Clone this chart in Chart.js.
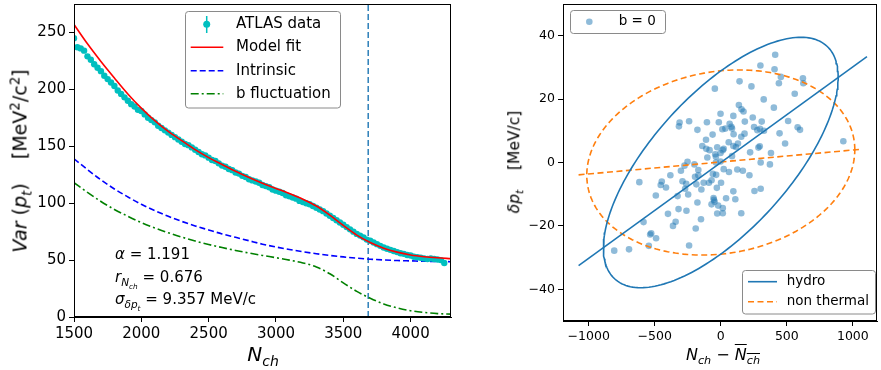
<!DOCTYPE html>
<html>
<head>
<meta charset="utf-8">
<script src="https://cdn.jsdelivr.net/npm/chart.js@4.4.1/dist/chart.umd.min.js"></script>
<style>
body { margin:0; background:#fff; width:881px; height:370px; position:relative; overflow:hidden; font-family:'DejaVu Sans', sans-serif; }
canvas { position:absolute; top:0; }
#leftChart { left:0; }
#rightChart { left:461px; }
.lbl { position:absolute; white-space:nowrap; color:#000; line-height:1; }
.lbl sub, .lbl sup { font-size:70%; line-height:0; }
.rot { transform:translate(-50%,-50%) rotate(-90deg); }
.ctr { transform:translate(-50%,-50%); }
.ovl { text-decoration:overline; }
</style>
</head>
<body>
<canvas id="leftChart" width="460" height="370"></canvas>
<canvas id="rightChart" width="420" height="370"></canvas>

<div class="lbl rot" style="left:20px;top:161px;font-size:19px;"><i>Var</i> (<i>p</i><sub><i>t</i></sub>)&nbsp;&nbsp;&nbsp; [MeV<sup>2</sup>/c<sup>2</sup>]</div>
<div class="lbl ctr" style="left:263px;top:354px;font-size:20px;"><i>N</i><sub><i>ch</i></sub></div>
<div class="lbl" style="left:115px;top:247px;font-size:15px;"><i>α</i> = 1.191</div>
<div class="lbl" style="left:115px;top:270px;font-size:15px;"><i>r</i><sub><i>N</i><sub><i>ch</i></sub></sub> = 0.676</div>
<div class="lbl" style="left:115px;top:292px;font-size:15px;"><i>σ</i><sub><i>δp</i><sub><i>t</i></sub></sub> = 9.357 MeV/c</div>

<div class="lbl rot" style="left:515px;top:162px;font-size:15.5px;"><i>δp</i><sub><i>t</i></sub>&nbsp;&nbsp;&nbsp; [MeV/c]</div>
<div class="lbl ctr" style="left:723px;top:355px;font-size:16px;"><i>N</i><sub><i>ch</i></sub> − <span class="ovl"><i>N</i><sub><i>ch</i></sub></span></div>

<script>
// ---- left panel: variance vs N_ch ----
const nch = [1500,1525,1550,1575,1600,1625,1650,1675,1700,1725,1750,1775,1800,1825,1850,1875,1900,1925,1950,1975,
  2000,2025,2050,2075,2100,2125,2150,2175,2200,2225,2250,2275,2300,2325,2350,2375,2400,2425,2450,2475,
  2500,2525,2550,2575,2600,2625,2650,2675,2700,2725,2750,2775,2800,2825,2850,2875,2900,2925,2950,2975,
  3000,3025,3050,3075,3100,3125,3150,3175,3200,3225,3250,3275,3300,3325,3350,3375,3400,3425,3450,3475,
  3500,3525,3550,3575,3600,3625,3650,3675,3700,3725,3750,3775,3800,3825,3850,3875,3900,3925,3950,3975,
  4000,4025,4050,4075,4100,4125,4150,4175,4200,4225,4250];
const atlasVar = [245,237,236,234,229,226,222,219,216,212,209,206,203,199,196,193,190,187,185,182,
  181,178,175,173,171,168,166,164,162,160,158,156,154,152,151,149,147,145,143,142,
  140,138,137,135,133,132,130,129,127,126,124,123,121,120,119,118,116,115,114,112,
  111,110,109,107,106,105,104,102,101,100,99,97.5,96,94.5,93,91,89,87,85,83,
  81,79,77,75,73,71.5,70,68,67,65.5,64,62.5,61,60,59,58,57,56,55.5,54.5,
  54,53,52.5,52,51.5,51,51.5,51,50.5,50,47.5];

const curveNch = [1500,1600,1700,1800,1900,2000,2100,2200,2300,2400,2500,2600,2700,2800,2900,
  3000,3100,3200,3300,3400,3500,3600,3700,3800,3900,4000,4100,4200,4300];
const modelFit = [257,240,224.5,210,196,183.5,172.5,163,155,147,140,134,128,122.5,117.5,
  113,108.5,103.5,97.5,89.5,80.5,72,65.5,60.5,57,54.5,53,52,51.3];
const intrinsic = [139,129.5,120.5,112.5,105.5,99,93.5,88.5,84,80,76.5,73,70,67,64,
  61.5,59.3,57.3,55.6,54.1,52.8,51.7,50.8,50.1,49.6,49.3,49,48.8,48.6];
const bFluct = [118,109.5,101.5,94.5,88.5,83,78.3,74,70.2,66.8,63.7,61,58.5,56.2,54.1,
  52.1,50,47.5,44,38,30,22.5,16.5,11.5,8,5.5,4,3,2.5];
const cutNch = 3685;

const xTicksLeft = [1500,2000,2500,3000,3500,4000];
const yTicksLeft = [0,50,100,150,200,250];

// ---- right panel: delta p_t vs delta N_ch ----
const dNch = [412,300,407,622,455,142,440,625,232,-45,560,325,402,137,157,172,-2,-312,-240,-317,
  -105,-15,95,182,242,310,510,67,85,12,-177,252,277,297,327,582,600,97,155,-62,
  -112,445,180,487,-140,-110,-85,22,15,115,95,295,285,928,-102,-42,-2,85,222,380,
  -252,-200,-37,-2,302,372,125,167,-302,-382,-170,-60,-35,62,217,-617,-447,-455,-415,-290,
  -262,-270,-185,-130,-90,2,-147,-30,95,255,302,-492,-327,-177,-52,-47,40,110,-70,-20,
  15,-320,-260,-400,-150,-27,15,155,-585,-342,-362,-190,-527,-535,-490,-545,-240,-807,-695,22,
  -70,-55,-247,-170,-195,-275,-27,-37,130,60,35,80];
const dPt = [34,30.6,29.4,26.6,27,25.6,25,25,24,23.3,21.7,19.9,17.3,18.1,16.8,16.1,15.4,12.6,13,11.4,
  12.7,12.7,14.7,12.9,14.2,12.9,13.1,12.2,10.7,10.5,10.3,11.2,10.2,10.6,10,11.1,10.3,8.9,8.1,8.8,
  7.2,9.2,9.1,6,5.2,4.3,3.9,4.3,3.9,4.9,5.2,5.1,4.7,6.7,1.6,2.6,3,2,3.2,3,
  0.2,-0.6,0,0.3,0,-0.6,-2.2,-2.6,-2.6,-4,-4,-3.6,-3.9,-3,-4,-6.2,-6,-7.1,-7.9,-5.9,
  -6.7,-8.3,-6.9,-6.4,-6.4,-6.4,-8.5,-8,-9.1,-9,-8.3,-10.4,-10.6,-12.6,-11.8,-12.4,-11.3,-11.6,-13.2,-13.6,
  -14.4,-14.7,-15.2,-16.2,-17.9,-16.1,-16,-16,-18.8,-18.7,-20,-20.8,-22.3,-22.7,-23.9,-26.3,-26.2,-27.8,-27.4,-2.1,
  -5.6,-11.2,-10.1,-2.4,-4.5,-1,4.8,1.8,6,6.4,10.7,11.3];

// fit lines (end points) and ellipses [x half-width, y half-height, phase]
const hydroLineX = [-1077, 1107];
const hydroLineY = [-32.5, 33.4];
const thermLineX = [-1077, 1070];
const thermLineY = [-3.9, 4.2];
const hydroEllipse = [889, 39.5, 0.82];
const thermEllipse = [1015, 29.2, 1.433];

const xTicksRight = [-1000,-500,0,500,1000];
const yTicksRight = [-40,-20,0,20,40];

const FONT = "'DejaVu Sans', sans-serif";
const pts = (xs, ys) => xs.map((x, i) => ({ x: x, y: ys[i] }));

function ellipsePts(p) {
  const out = [];
  for (let k = 0; k <= 200; k++) {
    const t = 2 * Math.PI * k / 200;
    out.push({ x: p[0] * Math.cos(t), y: p[1] * Math.cos(t - p[2]) });
  }
  return out;
}

function axis(min, max, ticks, size, fit) {
  return {
    type: 'linear', min: min, max: max,
    afterBuildTicks: s => { s.ticks = ticks.map(v => ({ value: v })); },
    afterFit: s => { fit(s); s.paddingTop = 0; s.paddingBottom = 0; },
    ticks: { font: { family: FONT, size: size }, color: '#000', padding: 3, autoSkip: false, maxRotation: 0,
             callback: v => String(v).replace('-', '\u2212') },
    grid: { drawOnChartArea: false, tickLength: 5, color: '#000' },
    border: { color: '#000' }
  };
}

const frame = {
  id: 'frame',
  afterDraw(c) {
    const a = c.chartArea, ctx = c.ctx;
    ctx.save();
    ctx.strokeStyle = '#000'; ctx.lineWidth = 1;
    ctx.strokeRect(Math.round(a.left) + 0.5, Math.round(a.top) + 0.5,
                   Math.round(a.right - a.left) - 1, Math.round(a.bottom - a.top) - 1);
    ctx.restore();
  }
};

function box(ctx, x, y, w, h) {
  ctx.beginPath();
  ctx.roundRect(x, y, w, h, 3);
  ctx.fillStyle = 'rgba(255,255,255,0.8)';
  ctx.fill();
  ctx.strokeStyle = '#8a8a8a'; ctx.lineWidth = 1;
  ctx.stroke();
}
function seg(ctx, x1, x2, y, color, dash) {
  ctx.beginPath();
  ctx.setLineDash(dash);
  ctx.strokeStyle = color; ctx.lineWidth = 1.6;
  ctx.moveTo(x1, y); ctx.lineTo(x2, y); ctx.stroke();
  ctx.setLineDash([]);
}

const leftLegend = {
  id: 'leftLegend',
  afterDraw(c) {
    const ctx = c.ctx;
    ctx.save();
    box(ctx, 185.5, 11.5, 155, 96.5);
    ctx.strokeStyle = '#00bfbf'; ctx.lineWidth = 1.5;
    ctx.beginPath(); ctx.moveTo(206.7, 16); ctx.lineTo(206.7, 33); ctx.stroke();
    ctx.fillStyle = '#00bfbf';
    ctx.beginPath(); ctx.arc(206.7, 24.3, 3.5, 0, 2 * Math.PI); ctx.fill();
    seg(ctx, 190.7, 223.3, 47.3, '#ff0000', []);
    seg(ctx, 190.7, 223.3, 70.7, '#0000ff', [6, 3]);
    seg(ctx, 190.7, 223.3, 93.7, '#008000', [8, 3, 2, 3]);
    ctx.fillStyle = '#000'; ctx.font = '15px ' + FONT; ctx.textBaseline = 'middle';
    ctx.fillText('ATLAS data', 236, 24.3);
    ctx.fillText('Model fit', 236, 47.3);
    ctx.fillText('Intrinsic', 236, 70.7);
    ctx.fillText('b fluctuation', 236, 93.7);
    ctx.restore();
  }
};

const rightLegend = {
  id: 'rightLegend',
  afterDraw(c) {
    const ctx = c.ctx;
    ctx.save();
    box(ctx, 109.5, 10.5, 95, 23);
    ctx.fillStyle = 'rgba(31,119,180,0.5)';
    ctx.beginPath(); ctx.arc(128.3, 21.7, 3.3, 0, 2 * Math.PI); ctx.fill();
    box(ctx, 281.5, 270.5, 133, 43.5);
    seg(ctx, 287, 316, 281.7, '#1f77b4', []);
    seg(ctx, 287, 316, 301.7, '#ff7f0e', [6, 3.5]);
    ctx.fillStyle = '#000'; ctx.font = '13.5px ' + FONT; ctx.textBaseline = 'middle';
    ctx.fillText('b = 0', 157.7, 21.7);
    ctx.fillText('hydro', 325.7, 281.7);
    ctx.fillText('non thermal', 325.7, 301.7);
    ctx.restore();
  }
};

const lineDs = (data, color, dash, order, extra) => Object.assign({
  data: data, showLine: true, borderColor: color, borderWidth: 1.6, borderDash: dash,
  pointRadius: 0, pointHoverRadius: 0, fill: false, order: order
}, extra || {});

new Chart(document.getElementById('leftChart'), {
  type: 'scatter',
  data: {
    datasets: [
      lineDs(pts(curveNch, modelFit), '#ff0000', [], 0, { cubicInterpolationMode: 'monotone' }),
      { data: pts(nch, atlasVar), pointRadius: 3.2, backgroundColor: '#00bfbf', borderWidth: 0, order: 1 },
      lineDs(pts(curveNch, intrinsic), '#0000ff', [6, 3], 2, { cubicInterpolationMode: 'monotone' }),
      lineDs(pts(curveNch, bFluct), '#008000', [8, 3, 2, 3], 3, { cubicInterpolationMode: 'monotone' }),
      lineDs([{ x: cutNch, y: 0 }, { x: cutNch, y: 275 }], '#1f77b4', [6, 3], 4, { borderWidth: 1.4 })
    ]
  },
  options: {
    responsive: false, animation: false,
    layout: { padding: { top: 4, right: 9, left: 0, bottom: 0 } },
    plugins: { legend: { display: false }, tooltip: { enabled: false } },
    scales: {
      x: axis(1500, 4300, xTicksLeft, 15, s => { s.height = 53; }),
      y: axis(0, 275, yTicksLeft, 15, s => { s.width = 74; })
    }
  },
  plugins: [frame, leftLegend]
});

new Chart(document.getElementById('rightChart'), {
  type: 'scatter',
  data: {
    datasets: [
      lineDs(ellipsePts(hydroEllipse), '#1f77b4', [], 0),
      lineDs(pts(hydroLineX, hydroLineY), '#1f77b4', [], 1),
      lineDs(ellipsePts(thermEllipse), '#ff7f0e', [6, 3.5], 2),
      lineDs(pts(thermLineX, thermLineY), '#ff7f0e', [6, 3.5], 3),
      { data: pts(dNch, dPt), pointRadius: 3.3, backgroundColor: 'rgba(31,119,180,0.5)', borderWidth: 0, order: 4 }
    ]
  },
  options: {
    responsive: false, animation: false,
    layout: { padding: { top: 3, right: 1, left: 0, bottom: 0 } },
    plugins: { legend: { display: false }, tooltip: { enabled: false } },
    scales: {
      x: axis(-1195, 1183, xTicksRight, 12.5, s => { s.height = 49; }),
      y: axis(-50, 50, yTicksRight, 12.5, s => { s.width = 102; })
    }
  },
  plugins: [frame, rightLegend]
});
</script>
</body>
</html>
